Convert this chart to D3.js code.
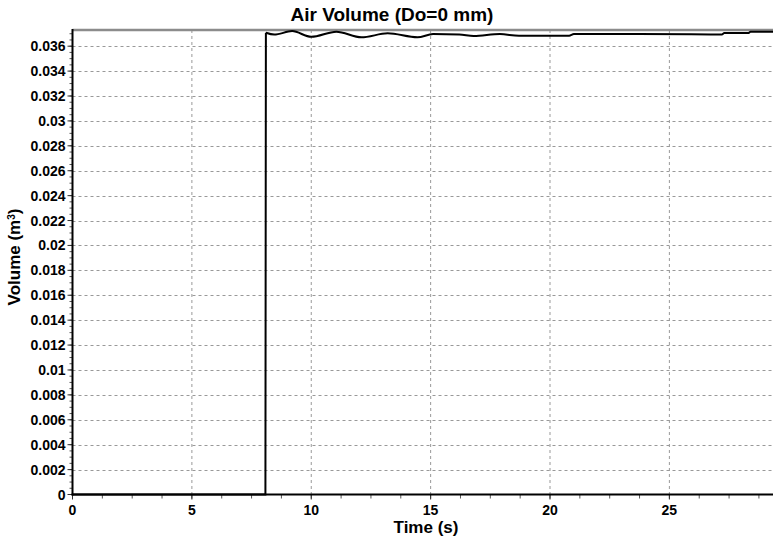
<!DOCTYPE html>
<html>
<head>
<meta charset="utf-8">
<script src="https://cdn.jsdelivr.net/npm/d3@7"></script>
<style>
  body { margin: 0; background: #fff; }
  text { font-family: "Liberation Sans", Arial, sans-serif; font-weight: bold; }
</style>
</head>
<body>
<svg id="chart" width="773" height="543"></svg>
<script>
// data
let stepTime = [0, 8.08, 8.10];
let stepVolume = [0, 0, 0.03708];

let waveTime = [8.10, 8.45, 9.2, 10.0, 11.05, 12.1, 13.2, 14.45, 15.1, 16.2, 16.8, 17.9,
                18.7, 20.8, 21.0, 23.7, 27.2, 27.3, 28.3, 28.4, 29.34];
let waveVolume = [0.03708, 0.03693, 0.03721, 0.03675, 0.03716, 0.03671, 0.03703, 0.03671,
                  0.03697, 0.03694, 0.03681, 0.03697, 0.03684, 0.03684, 0.03697, 0.03697,
                  0.03694, 0.03705, 0.03705, 0.03716, 0.03716];

let xTicks = [0, 5, 10, 15, 20, 25];
let yTicks = d3.range(0, 0.0361, 0.002);

let svg = d3.select("#chart");
let position = { left: 72.5, top: 30, right: 773, bottom: 494.5 };

let x = d3.scaleLinear().domain([0, 29.34]).range([position.left, position.right]);
let y = d3.scaleLinear().domain([0, 0.0373]).range([position.bottom, position.top]);

// grid
let grid = svg.append("g");
grid.selectAll(".gx").data(xTicks.slice(1)).enter().append("line")
    .attr("x1", d => x(d)).attr("x2", d => x(d))
    .attr("y1", position.top).attr("y2", position.bottom)
    .style("stroke", "#999").style("stroke-dasharray", "3,3").style("stroke-width", 1);
grid.selectAll(".gy").data(yTicks.slice(1)).enter().append("line")
    .attr("x1", position.left).attr("x2", position.right)
    .attr("y1", d => Math.round(y(d)) + 0.5).attr("y2", d => Math.round(y(d)) + 0.5)
    .style("stroke", "#999").style("stroke-dasharray", "3,3").style("stroke-width", 1);

// top border
svg.append("line")
    .attr("x1", position.left).attr("x2", position.right)
    .attr("y1", position.top).attr("y2", position.top)
    .style("stroke", "#8c8c8c").style("stroke-width", 2.5);

// x axis
let xAxis = svg.append("g").attr("transform", "translate(0," + position.bottom + ")");
xAxis.selectAll(".minor").data(d3.range(0, 29.3, 1.25)).enter().append("line")
    .attr("x1", d => x(d)).attr("x2", d => x(d)).attr("y1", 0).attr("y2", 4)
    .style("stroke", "#555").style("stroke-width", 1);
xAxis.selectAll(".major").data(xTicks).enter().append("line")
    .attr("x1", d => x(d)).attr("x2", d => x(d)).attr("y1", 0).attr("y2", 5)
    .style("stroke", "#333").style("stroke-width", 1);
xAxis.selectAll("text").data(xTicks).enter().append("text")
    .attr("x", d => x(d)).attr("y", 20.5)
    .attr("text-anchor", "middle").style("font-size", "14px")
    .text(d => d);

// y axis
let yAxis = svg.append("g").attr("transform", "translate(" + position.left + ",0)");
yAxis.selectAll(".minor").data(d3.range(0, 0.0372, 0.0005)).enter().append("line")
    .attr("x1", -3).attr("x2", 0).attr("y1", d => y(d)).attr("y2", d => y(d))
    .style("stroke", "#555").style("stroke-width", 1);
yAxis.selectAll(".major").data(yTicks).enter().append("line")
    .attr("x1", -5).attr("x2", 0).attr("y1", d => y(d)).attr("y2", d => y(d))
    .style("stroke", "#333").style("stroke-width", 1);
yAxis.selectAll("text").data(yTicks).enter().append("text")
    .attr("x", -7).attr("y", d => y(d) + 5)
    .attr("text-anchor", "end").style("font-size", "14px")
    .text(d => String(+d.toFixed(3)));

// axis lines
svg.append("line")
    .attr("x1", position.left).attr("x2", position.left)
    .attr("y1", position.top - 1).attr("y2", position.bottom + 1)
    .style("stroke", "#000").style("stroke-width", 2);
svg.append("line")
    .attr("x1", position.left - 1).attr("x2", position.right)
    .attr("y1", position.bottom).attr("y2", position.bottom)
    .style("stroke", "#000").style("stroke-width", 2);

// series
let stepLine = d3.line().x(d => x(d[0])).y(d => y(d[1]));
svg.append("path")
    .datum(d3.zip(stepTime, stepVolume))
    .attr("d", stepLine)
    .style("fill", "none").style("stroke", "#000").style("stroke-width", 2);

let waveLine = d3.line().x(d => x(d[0])).y(d => y(d[1])).curve(d3.curveMonotoneX);
svg.append("path")
    .datum(d3.zip(waveTime, waveVolume))
    .attr("d", waveLine)
    .style("fill", "none").style("stroke", "#000").style("stroke-width", 2);

// titles
svg.append("text")
    .attr("x", 392).attr("y", 20.5)
    .attr("text-anchor", "middle").style("font-size", "19px")
    .text("Air Volume (Do=0 mm)");
svg.append("text")
    .attr("x", 426).attr("y", 533)
    .attr("text-anchor", "middle").style("font-size", "17px")
    .text("Time (s)");
svg.append("text")
    .attr("transform", "translate(20,257) rotate(-90)")
    .attr("text-anchor", "middle").style("font-size", "17px")
    .html("Volume (m<tspan baseline-shift=\"super\" font-size=\"10px\">3</tspan>)");
</script>
</body>
</html>
